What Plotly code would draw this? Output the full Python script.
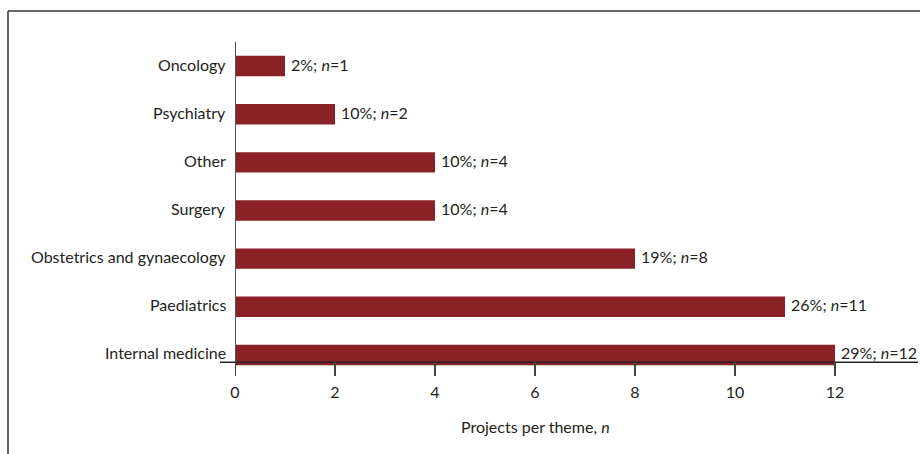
import plotly.graph_objects as go

categories = ["Internal medicine", "Paediatrics", "Obstetrics and gynaecology",
              "Surgery", "Other", "Psychiatry", "Oncology"]
counts = [12, 11, 8, 4, 4, 2, 1]
percents = ["29%", "26%", "19%", "10%", "10%", "10%", "2%"]
x_ticks = [0, 2, 4, 6, 8, 10, 12]
x_title = "Projects per theme, <i>n</i>"

W, H = 920, 454
ML, MR, MT, MB = 235, 2, 42, 75
PW, PH = W - ML - MR, H - MT - MB

BAR = "#8a2127"
TXT = "#231f20"
FONT = "Lato"
FS = 16

labels = [f"{p}; <i>n</i>={c}" for p, c in zip(percents, counts)]

fig = go.Figure(go.Bar(
    x=counts, y=categories, orientation="h", width=0.425,
    marker=dict(color=BAR, line=dict(width=0)),
))

def px_to_paper_x(px):
    return (px - ML) / PW

def px_to_paper_y(py):
    return (H - MB - py) / PH

shapes = []
# frame (top and left)
shapes.append(dict(type="line", xref="paper", yref="paper",
                   x0=px_to_paper_x(8), x1=px_to_paper_x(W + 2),
                   y0=px_to_paper_y(11), y1=px_to_paper_y(11),
                   line=dict(color="#333333", width=1.5)))
shapes.append(dict(type="line", xref="paper", yref="paper",
                   x0=px_to_paper_x(8), x1=px_to_paper_x(8),
                   y0=px_to_paper_y(11), y1=px_to_paper_y(H + 2),
                   line=dict(color="#333333", width=1.5)))
# y axis line
shapes.append(dict(type="line", xref="x", yref="y", x0=0, x1=0,
                   y0=-0.44, y1=6.5, line=dict(color="#555555", width=2)))
# x axis line
shapes.append(dict(type="line", xref="paper", yref="y",
                   x0=px_to_paper_x(220), x1=1, y0=-0.15, y1=-0.15,
                   line=dict(color="#222222", width=1.5)))
# tick marks
for t in x_ticks:
    shapes.append(dict(type="line", xref="x", yref="y", x0=t, x1=t,
                       y0=-0.15, y1=-0.44, line=dict(color="#444444", width=2)))

annotations = []
# value labels
for c, cat, lab in zip(counts, categories, labels):
    annotations.append(dict(x=c, y=cat, xref="x", yref="y", text=lab,
                            showarrow=False, xanchor="left", yanchor="middle",
                            xshift=4, yshift=2,
                            font=dict(family=FONT, size=FS, color=TXT)))
# category labels
for cat in categories:
    annotations.append(dict(x=0, y=cat, xref="x", yref="y", text=cat,
                            showarrow=False, xanchor="right", yanchor="middle",
                            xshift=-7, yshift=2,
                            font=dict(family=FONT, size=FS, color=TXT)))
annotations.append(dict(x=6, xref="x", y=px_to_paper_y(426), yref="paper",
                        text=x_title, showarrow=False, xanchor="center",
                        yanchor="middle",
                        font=dict(family=FONT, size=FS, color=TXT)))

fig.update_layout(
    width=W, height=H,
    margin=dict(l=ML, r=MR, t=MT, b=MB),
    paper_bgcolor="white", plot_bgcolor="white",
    showlegend=False,
    font=dict(family=FONT, size=FS, color=TXT),
    shapes=shapes,
    annotations=annotations,
    xaxis=dict(range=[0, (W - MR - ML) / 50.0], tickvals=x_ticks,
               showgrid=False, zeroline=False, showline=False, ticks="",
               tickfont=dict(family=FONT, size=FS, color=TXT),
               ticklabelstandoff=2),
    yaxis=dict(range=[-0.5, 6.5], type="category", categoryorder="array",
               categoryarray=categories, showticklabels=False,
               showgrid=False, zeroline=False, showline=False, ticks=""),
)

fig.write_html("out.html")
